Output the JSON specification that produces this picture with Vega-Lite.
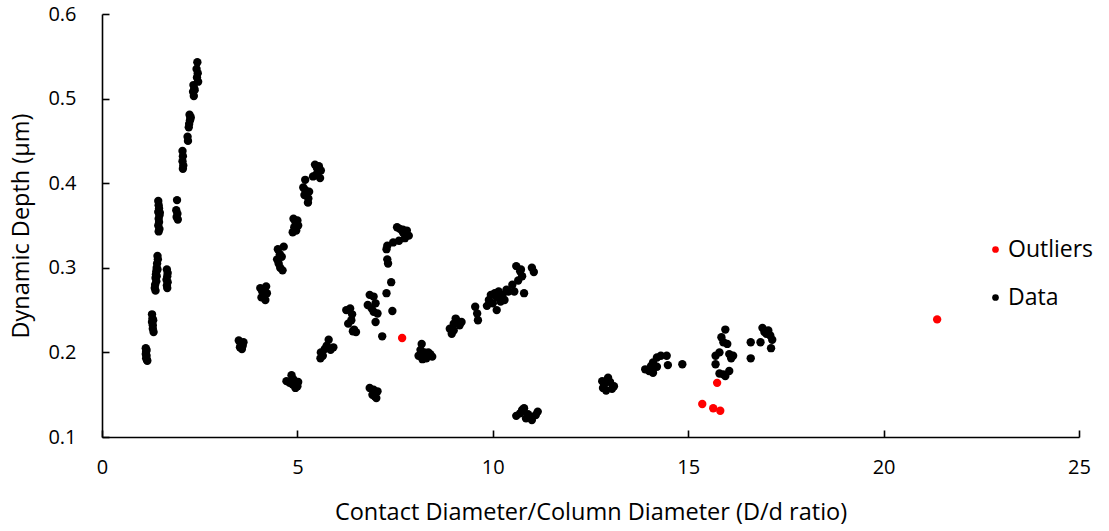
{
  "$schema": "https://vega.github.io/schema/vega-lite/v6.json",
  "width": 977,
  "height": 423,
  "autosize": "none",
  "padding": {"left": 102, "top": 14, "right": 30, "bottom": 94},
  "background": "white",
  "config": {
    "view": {"stroke": null},
    "font": "Open Sans",
    "axis": {
      "domainColor": "#000000",
      "domainWidth": 1.6,
      "tickColor": "#000000",
      "tickWidth": 1.6,
      "tickSize": -7,
      "grid": false,
      "labelColor": "#000000",
      "labelFont": "Open Sans",
      "labelFontSize": 20,
      "labelFlush": false,
      "titleColor": "#000000",
      "titleFont": "Open Sans",
      "titleFontSize": 23.5,
      "titleFontWeight": "normal"
    }
  },
  "datasets": {
    "pts": [
      {"x": 1.12, "y": 0.205, "s": "Data"}, {"x": 1.13, "y": 0.201, "s": "Data"}, {"x": 1.12, "y": 0.198, "s": "Data"}, {"x": 1.14, "y": 0.196, "s": "Data"}, {"x": 1.13, "y": 0.193, "s": "Data"}, {"x": 1.15, "y": 0.191, "s": "Data"}, {"x": 1.16, "y": 0.19, "s": "Data"}, {"x": 1.14, "y": 0.203, "s": "Data"},
      {"x": 1.28, "y": 0.245, "s": "Data"}, {"x": 1.29, "y": 0.24, "s": "Data"}, {"x": 1.28, "y": 0.236, "s": "Data"}, {"x": 1.3, "y": 0.232, "s": "Data"}, {"x": 1.3, "y": 0.228, "s": "Data"}, {"x": 1.32, "y": 0.224, "s": "Data"}, {"x": 1.31, "y": 0.238, "s": "Data"},
      {"x": 1.42, "y": 0.314, "s": "Data"}, {"x": 1.43, "y": 0.31, "s": "Data"}, {"x": 1.41, "y": 0.305, "s": "Data"}, {"x": 1.4, "y": 0.3, "s": "Data"}, {"x": 1.39, "y": 0.296, "s": "Data"}, {"x": 1.42, "y": 0.298, "s": "Data"}, {"x": 1.38, "y": 0.292, "s": "Data"}, {"x": 1.37, "y": 0.288, "s": "Data"}, {"x": 1.39, "y": 0.284, "s": "Data"}, {"x": 1.36, "y": 0.28, "s": "Data"}, {"x": 1.35, "y": 0.276, "s": "Data"}, {"x": 1.37, "y": 0.273, "s": "Data"}, {"x": 1.4, "y": 0.29, "s": "Data"},
      {"x": 1.66, "y": 0.298, "s": "Data"}, {"x": 1.68, "y": 0.294, "s": "Data"}, {"x": 1.67, "y": 0.29, "s": "Data"}, {"x": 1.65, "y": 0.286, "s": "Data"}, {"x": 1.68, "y": 0.283, "s": "Data"}, {"x": 1.66, "y": 0.279, "s": "Data"}, {"x": 1.67, "y": 0.276, "s": "Data"},
      {"x": 1.44, "y": 0.379, "s": "Data"}, {"x": 1.45, "y": 0.374, "s": "Data"}, {"x": 1.46, "y": 0.37, "s": "Data"}, {"x": 1.44, "y": 0.366, "s": "Data"}, {"x": 1.47, "y": 0.362, "s": "Data"}, {"x": 1.45, "y": 0.358, "s": "Data"}, {"x": 1.46, "y": 0.354, "s": "Data"}, {"x": 1.44, "y": 0.35, "s": "Data"}, {"x": 1.47, "y": 0.346, "s": "Data"}, {"x": 1.45, "y": 0.343, "s": "Data"}, {"x": 1.48, "y": 0.365, "s": "Data"},
      {"x": 1.92, "y": 0.38, "s": "Data"}, {"x": 1.9, "y": 0.368, "s": "Data"}, {"x": 1.93, "y": 0.364, "s": "Data"}, {"x": 1.91, "y": 0.36, "s": "Data"}, {"x": 1.94, "y": 0.357, "s": "Data"},
      {"x": 2.06, "y": 0.438, "s": "Data"}, {"x": 2.07, "y": 0.432, "s": "Data"}, {"x": 2.06, "y": 0.426, "s": "Data"}, {"x": 2.08, "y": 0.421, "s": "Data"}, {"x": 2.07, "y": 0.417, "s": "Data"},
      {"x": 2.19, "y": 0.455, "s": "Data"}, {"x": 2.2, "y": 0.45, "s": "Data"},
      {"x": 2.24, "y": 0.481, "s": "Data"}, {"x": 2.27, "y": 0.478, "s": "Data"}, {"x": 2.25, "y": 0.474, "s": "Data"}, {"x": 2.23, "y": 0.47, "s": "Data"}, {"x": 2.22, "y": 0.466, "s": "Data"}, {"x": 2.26, "y": 0.476, "s": "Data"},
      {"x": 2.34, "y": 0.516, "s": "Data"}, {"x": 2.36, "y": 0.512, "s": "Data"}, {"x": 2.33, "y": 0.508, "s": "Data"}, {"x": 2.35, "y": 0.503, "s": "Data"}, {"x": 2.37, "y": 0.51, "s": "Data"},
      {"x": 2.44, "y": 0.543, "s": "Data"}, {"x": 2.42, "y": 0.535, "s": "Data"}, {"x": 2.45, "y": 0.53, "s": "Data"}, {"x": 2.43, "y": 0.525, "s": "Data"}, {"x": 2.46, "y": 0.52, "s": "Data"},
      {"x": 3.5, "y": 0.214, "s": "Data"}, {"x": 3.55, "y": 0.21, "s": "Data"}, {"x": 3.6, "y": 0.208, "s": "Data"}, {"x": 3.53, "y": 0.206, "s": "Data"}, {"x": 3.62, "y": 0.212, "s": "Data"}, {"x": 3.58, "y": 0.204, "s": "Data"},
      {"x": 4.05, "y": 0.276, "s": "Data"}, {"x": 4.1, "y": 0.272, "s": "Data"}, {"x": 4.2, "y": 0.278, "s": "Data"}, {"x": 4.15, "y": 0.268, "s": "Data"}, {"x": 4.08, "y": 0.265, "s": "Data"}, {"x": 4.22, "y": 0.27, "s": "Data"}, {"x": 4.18, "y": 0.262, "s": "Data"},
      {"x": 4.5, "y": 0.322, "s": "Data"}, {"x": 4.55, "y": 0.316, "s": "Data"}, {"x": 4.48, "y": 0.31, "s": "Data"}, {"x": 4.6, "y": 0.313, "s": "Data"}, {"x": 4.52, "y": 0.305, "s": "Data"}, {"x": 4.56, "y": 0.3, "s": "Data"}, {"x": 4.62, "y": 0.297, "s": "Data"}, {"x": 4.65, "y": 0.325, "s": "Data"},
      {"x": 4.9, "y": 0.358, "s": "Data"}, {"x": 4.95, "y": 0.354, "s": "Data"}, {"x": 5.0, "y": 0.356, "s": "Data"}, {"x": 4.92, "y": 0.348, "s": "Data"}, {"x": 4.97, "y": 0.344, "s": "Data"}, {"x": 4.88, "y": 0.342, "s": "Data"}, {"x": 5.02, "y": 0.35, "s": "Data"},
      {"x": 5.2, "y": 0.404, "s": "Data"}, {"x": 5.15, "y": 0.395, "s": "Data"}, {"x": 5.2, "y": 0.392, "s": "Data"}, {"x": 5.25, "y": 0.389, "s": "Data"}, {"x": 5.18, "y": 0.386, "s": "Data"}, {"x": 5.28, "y": 0.382, "s": "Data"}, {"x": 5.3, "y": 0.39, "s": "Data"}, {"x": 5.27, "y": 0.377, "s": "Data"},
      {"x": 5.45, "y": 0.422, "s": "Data"}, {"x": 5.5, "y": 0.418, "s": "Data"}, {"x": 5.55, "y": 0.42, "s": "Data"}, {"x": 5.6, "y": 0.415, "s": "Data"}, {"x": 5.48, "y": 0.41, "s": "Data"}, {"x": 5.58, "y": 0.406, "s": "Data"}, {"x": 5.4, "y": 0.408, "s": "Data"}, {"x": 5.52, "y": 0.412, "s": "Data"},
      {"x": 4.72, "y": 0.166, "s": "Data"}, {"x": 4.85, "y": 0.173, "s": "Data"}, {"x": 4.88, "y": 0.162, "s": "Data"}, {"x": 4.95, "y": 0.158, "s": "Data"}, {"x": 5.0, "y": 0.16, "s": "Data"}, {"x": 4.9, "y": 0.168, "s": "Data"}, {"x": 4.8, "y": 0.164, "s": "Data"}, {"x": 5.02, "y": 0.165, "s": "Data"},
      {"x": 5.6, "y": 0.2, "s": "Data"}, {"x": 5.65, "y": 0.196, "s": "Data"}, {"x": 5.7, "y": 0.204, "s": "Data"}, {"x": 5.75, "y": 0.208, "s": "Data"}, {"x": 5.8, "y": 0.215, "s": "Data"}, {"x": 5.85, "y": 0.203, "s": "Data"}, {"x": 5.92, "y": 0.206, "s": "Data"}, {"x": 5.59, "y": 0.193, "s": "Data"},
      {"x": 6.25, "y": 0.25, "s": "Data"}, {"x": 6.35, "y": 0.252, "s": "Data"}, {"x": 6.4, "y": 0.245, "s": "Data"}, {"x": 6.38, "y": 0.238, "s": "Data"}, {"x": 6.3, "y": 0.234, "s": "Data"}, {"x": 6.42, "y": 0.225, "s": "Data"}, {"x": 6.5, "y": 0.224, "s": "Data"}, {"x": 6.45, "y": 0.227, "s": "Data"},
      {"x": 6.85, "y": 0.268, "s": "Data"}, {"x": 6.95, "y": 0.266, "s": "Data"}, {"x": 6.8, "y": 0.256, "s": "Data"}, {"x": 6.9, "y": 0.252, "s": "Data"}, {"x": 7.0, "y": 0.258, "s": "Data"}, {"x": 6.95, "y": 0.248, "s": "Data"}, {"x": 7.05, "y": 0.246, "s": "Data"}, {"x": 7.0, "y": 0.236, "s": "Data"},
      {"x": 7.43, "y": 0.249, "s": "Data"}, {"x": 7.17, "y": 0.219, "s": "Data"}, {"x": 7.28, "y": 0.27, "s": "Data"}, {"x": 7.4, "y": 0.283, "s": "Data"},
      {"x": 7.28, "y": 0.322, "s": "Data"}, {"x": 7.3, "y": 0.31, "s": "Data"}, {"x": 7.32, "y": 0.305, "s": "Data"},
      {"x": 7.55, "y": 0.348, "s": "Data"}, {"x": 7.62, "y": 0.346, "s": "Data"}, {"x": 7.7, "y": 0.342, "s": "Data"}, {"x": 7.8, "y": 0.344, "s": "Data"}, {"x": 7.85, "y": 0.338, "s": "Data"}, {"x": 7.75, "y": 0.335, "s": "Data"}, {"x": 7.6, "y": 0.332, "s": "Data"}, {"x": 7.45, "y": 0.33, "s": "Data"}, {"x": 7.3, "y": 0.326, "s": "Data"}, {"x": 7.7, "y": 0.345, "s": "Data"},
      {"x": 6.85, "y": 0.158, "s": "Data"}, {"x": 6.95, "y": 0.156, "s": "Data"}, {"x": 7.0, "y": 0.152, "s": "Data"}, {"x": 6.98, "y": 0.148, "s": "Data"}, {"x": 7.05, "y": 0.154, "s": "Data"}, {"x": 7.02, "y": 0.146, "s": "Data"}, {"x": 6.92, "y": 0.15, "s": "Data"},
      {"x": 8.18, "y": 0.21, "s": "Data"}, {"x": 8.15, "y": 0.203, "s": "Data"}, {"x": 8.1, "y": 0.196, "s": "Data"}, {"x": 8.25, "y": 0.2, "s": "Data"}, {"x": 8.3, "y": 0.193, "s": "Data"}, {"x": 8.4, "y": 0.198, "s": "Data"}, {"x": 8.35, "y": 0.2, "s": "Data"}, {"x": 8.45, "y": 0.195, "s": "Data"}, {"x": 8.2, "y": 0.192, "s": "Data"},
      {"x": 8.9, "y": 0.228, "s": "Data"}, {"x": 8.95, "y": 0.222, "s": "Data"}, {"x": 9.0, "y": 0.234, "s": "Data"}, {"x": 9.05, "y": 0.24, "s": "Data"}, {"x": 9.1, "y": 0.237, "s": "Data"}, {"x": 9.15, "y": 0.232, "s": "Data"}, {"x": 9.0, "y": 0.226, "s": "Data"}, {"x": 9.2, "y": 0.236, "s": "Data"},
      {"x": 9.55, "y": 0.254, "s": "Data"}, {"x": 9.6, "y": 0.246, "s": "Data"}, {"x": 9.62, "y": 0.238, "s": "Data"},
      {"x": 9.85, "y": 0.255, "s": "Data"}, {"x": 9.9, "y": 0.262, "s": "Data"}, {"x": 9.95, "y": 0.268, "s": "Data"}, {"x": 10.0, "y": 0.258, "s": "Data"}, {"x": 10.05, "y": 0.27, "s": "Data"}, {"x": 10.1, "y": 0.265, "s": "Data"}, {"x": 10.15, "y": 0.272, "s": "Data"}, {"x": 10.2, "y": 0.26, "s": "Data"}, {"x": 10.25, "y": 0.268, "s": "Data"}, {"x": 10.35, "y": 0.274, "s": "Data"}, {"x": 10.4, "y": 0.272, "s": "Data"}, {"x": 10.3, "y": 0.262, "s": "Data"}, {"x": 10.1, "y": 0.25, "s": "Data"}, {"x": 10.5, "y": 0.28, "s": "Data"}, {"x": 10.55, "y": 0.272, "s": "Data"},
      {"x": 10.6, "y": 0.302, "s": "Data"}, {"x": 10.7, "y": 0.296, "s": "Data"}, {"x": 10.75, "y": 0.29, "s": "Data"}, {"x": 10.65, "y": 0.285, "s": "Data"}, {"x": 10.72, "y": 0.298, "s": "Data"}, {"x": 11.0, "y": 0.3, "s": "Data"}, {"x": 11.05, "y": 0.295, "s": "Data"}, {"x": 10.8, "y": 0.27, "s": "Data"},
      {"x": 10.6, "y": 0.125, "s": "Data"}, {"x": 10.7, "y": 0.128, "s": "Data"}, {"x": 10.75, "y": 0.132, "s": "Data"}, {"x": 10.8, "y": 0.134, "s": "Data"}, {"x": 10.85, "y": 0.122, "s": "Data"}, {"x": 10.95, "y": 0.124, "s": "Data"}, {"x": 11.0, "y": 0.12, "s": "Data"}, {"x": 11.1, "y": 0.126, "s": "Data"}, {"x": 11.15, "y": 0.13, "s": "Data"}, {"x": 10.9, "y": 0.127, "s": "Data"},
      {"x": 12.8, "y": 0.166, "s": "Data"}, {"x": 12.85, "y": 0.162, "s": "Data"}, {"x": 12.82, "y": 0.158, "s": "Data"}, {"x": 12.95, "y": 0.17, "s": "Data"}, {"x": 12.9, "y": 0.155, "s": "Data"}, {"x": 13.05, "y": 0.157, "s": "Data"}, {"x": 13.1, "y": 0.16, "s": "Data"}, {"x": 13.0, "y": 0.165, "s": "Data"},
      {"x": 13.9, "y": 0.18, "s": "Data"}, {"x": 14.0, "y": 0.178, "s": "Data"}, {"x": 14.05, "y": 0.184, "s": "Data"}, {"x": 14.1, "y": 0.188, "s": "Data"}, {"x": 14.2, "y": 0.194, "s": "Data"}, {"x": 14.3, "y": 0.196, "s": "Data"}, {"x": 14.2, "y": 0.183, "s": "Data"}, {"x": 14.48, "y": 0.185, "s": "Data"}, {"x": 14.1, "y": 0.176, "s": "Data"}, {"x": 14.45, "y": 0.196, "s": "Data"},
      {"x": 14.85, "y": 0.186, "s": "Data"},
      {"x": 15.95, "y": 0.227, "s": "Data"}, {"x": 15.85, "y": 0.218, "s": "Data"}, {"x": 15.9, "y": 0.212, "s": "Data"}, {"x": 16.0, "y": 0.21, "s": "Data"}, {"x": 15.7, "y": 0.196, "s": "Data"}, {"x": 15.8, "y": 0.2, "s": "Data"}, {"x": 16.05, "y": 0.198, "s": "Data"}, {"x": 16.1, "y": 0.193, "s": "Data"}, {"x": 15.7, "y": 0.186, "s": "Data"}, {"x": 16.05, "y": 0.178, "s": "Data"}, {"x": 15.8, "y": 0.175, "s": "Data"}, {"x": 15.9, "y": 0.174, "s": "Data"}, {"x": 15.95, "y": 0.172, "s": "Data"}, {"x": 16.15, "y": 0.196, "s": "Data"},
      {"x": 16.6, "y": 0.212, "s": "Data"}, {"x": 16.6, "y": 0.193, "s": "Data"},
      {"x": 16.9, "y": 0.229, "s": "Data"}, {"x": 16.95, "y": 0.224, "s": "Data"}, {"x": 17.0, "y": 0.222, "s": "Data"}, {"x": 17.1, "y": 0.22, "s": "Data"}, {"x": 17.15, "y": 0.215, "s": "Data"}, {"x": 17.05, "y": 0.226, "s": "Data"}, {"x": 17.12, "y": 0.205, "s": "Data"}, {"x": 16.85, "y": 0.212, "s": "Data"},
      {"x": 7.68, "y": 0.217, "s": "Outliers"}, {"x": 15.74, "y": 0.164, "s": "Outliers"}, {"x": 15.36, "y": 0.139, "s": "Outliers"}, {"x": 15.64, "y": 0.134, "s": "Outliers"}, {"x": 15.82, "y": 0.131, "s": "Outliers"}, {"x": 21.37, "y": 0.239, "s": "Outliers"}
    ]
  },
  "data": {"name": "pts"},
  "mark": {"type": "point", "filled": true, "opacity": 1, "size": 70},
  "encoding": {
    "x": {
      "field": "x", "type": "quantitative",
      "scale": {"domain": [0, 25], "nice": false, "zero": false},
      "axis": {"values": [0, 5, 10, 15, 20, 25], "title": "Contact Diameter/Column Diameter (D/d ratio)", "labelPadding": 27, "titlePadding": 23}
    },
    "y": {
      "field": "y", "type": "quantitative",
      "scale": {"domain": [0.1, 0.6], "nice": false, "zero": false},
      "axis": {"values": [0.1, 0.2, 0.3, 0.4, 0.5, 0.6], "format": ".1f", "title": "Dynamic Depth (µm)", "labelPadding": 33, "titlePadding": 14}
    },
    "color": {
      "field": "s", "type": "nominal",
      "scale": {"domain": ["Outliers", "Data"], "range": ["#ff0000", "#000000"]},
      "legend": {
        "title": null, "orient": "none", "legendX": 882, "legendY": 224,
        "symbolSize": 45, "symbolType": "circle", "labelFontSize": 23, "labelColor": "#000000",
        "labelFont": "Open Sans", "rowPadding": 24, "labelOffset": 1, "padding": 0
      }
    },
    "order": {"field": "s", "sort": "ascending"}
  }
}
